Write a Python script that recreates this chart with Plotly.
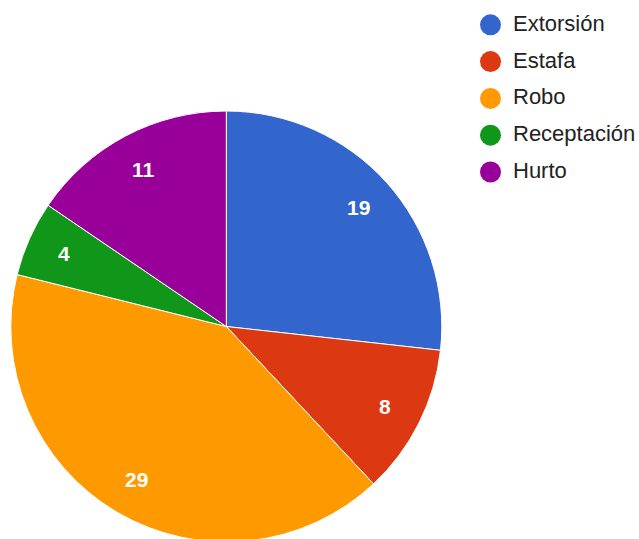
import math
import plotly.graph_objects as go

categories = ["Extorsión", "Estafa", "Robo", "Receptación", "Hurto"]
values = [19, 8, 29, 4, 11]
colors = ["#3366CC", "#DC3912", "#FF9900", "#109618", "#990099"]

W, H = 639, 543          # page area is 639x539; pie slightly runs past the bottom edge
cx, cy, R = 226.3, 326.5, 215.5
label_r = 0.826 * R

fig = go.Figure()
fig.add_trace(go.Pie(
    labels=categories, values=values, sort=False, direction="clockwise", rotation=0,
    marker=dict(colors=colors, line=dict(color="white", width=1)),
    textinfo="none", showlegend=False, hoverinfo="label+value+percent",
    domain=dict(x=[(cx - R) / W, (cx + R) / W], y=[(H - cy - R) / H, (H - cy + R) / H]),
))

# slice value labels along each slice's mid angle (annotations sit above the pie layer)
total = sum(values)
cum = 0
for v in values:
    a = 2 * math.pi * (cum + v / 2) / total
    fig.add_annotation(x=cx + label_r * math.sin(a), y=cy - label_r * math.cos(a),
                       text=f"<b>{v}</b>", showarrow=False, xanchor="center", yanchor="middle",
                       font=dict(color="white", size=21, family="Arial, Liberation Sans"))
    cum += v

# legend drawn as circles + text on a hidden pixel axis
leg_x = 490.5
leg_y = [24.8 + 36.8 * i for i in range(len(categories))]
fig.add_trace(go.Scatter(
    x=[leg_x] * len(categories), y=leg_y, mode="markers",
    marker=dict(size=21, color=colors, line=dict(width=0)),
    showlegend=False, hoverinfo="skip",
))
for name, y in zip(categories, leg_y):
    fig.add_annotation(x=510.5, y=y - 1.5, text=name, showarrow=False, xanchor="left", yanchor="middle",
                       font=dict(size=22, color="#222222", family="Arial, Liberation Sans"))

fig.update_layout(
    width=W, height=H, margin=dict(l=0, r=0, t=0, b=0),
    paper_bgcolor="white", plot_bgcolor="rgba(0,0,0,0)",
    xaxis=dict(range=[0, W], visible=False, fixedrange=True),
    yaxis=dict(range=[H, 0], visible=False, fixedrange=True),
)
fig.write_html("out.html", config={"displayModeBar": False},
               post_script="document.body.style.margin='0';document.body.style.overflow='hidden';")
